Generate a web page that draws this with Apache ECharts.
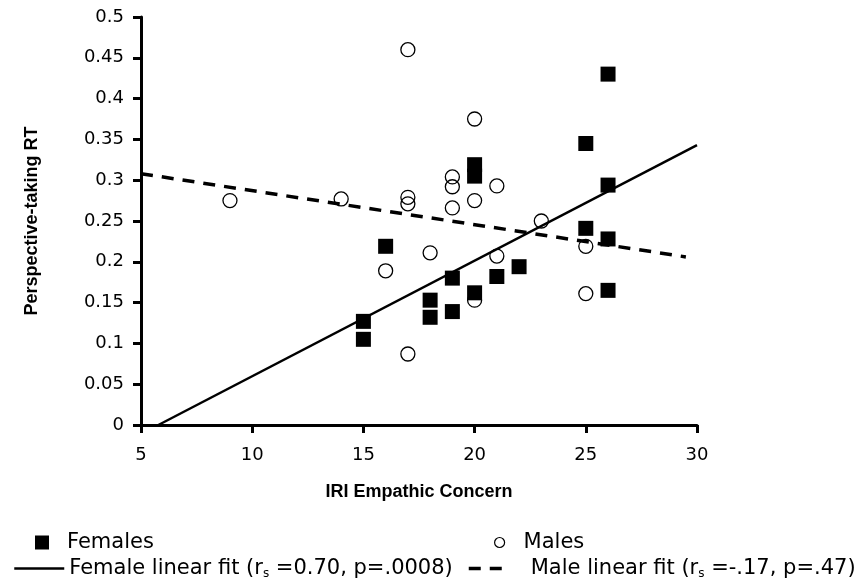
<!DOCTYPE html>
<html>
<head>
<meta charset="utf-8">
<script src="https://cdn.jsdelivr.net/npm/echarts@6/dist/echarts.min.js"></script>
<style>
  html, body { margin: 0; padding: 0; background: #fff; }
  #chart { width: 862px; height: 586px; }
</style>
</head>
<body>
<div id="chart"></div>
<script>
// IRI empathic concern (x) vs perspective-taking RT (y)
const femaleX = [26, 25, 20, 20, 26, 25, 26, 16, 22, 21, 19, 20, 18, 18, 19, 26, 15, 15];
const femaleY = [0.43, 0.345, 0.319, 0.305, 0.294, 0.241, 0.228, 0.219, 0.194, 0.182, 0.18, 0.162, 0.153, 0.132, 0.139, 0.165, 0.127, 0.105];

const maleX = [17, 20, 9, 14, 17, 17, 19, 19, 19, 20, 21, 23, 18, 16, 21, 25, 25, 20, 17];
const maleY = [0.46, 0.375, 0.275, 0.277, 0.279, 0.271, 0.304, 0.292, 0.266, 0.275, 0.293, 0.25, 0.211, 0.189, 0.207, 0.219, 0.161, 0.153, 0.087];

// fit line end points
const femaleFitX = [5.78, 30];
const femaleFitY = [0, 0.343];
const maleFitX = [5, 29.5];
const maleFitY = [0.308, 0.206];

const xTicks = { min: 5, max: 30, step: 5 };
const yTicks = { min: 0, max: 0.5, step: 0.05 };

const pairs = (xs, ys) => xs.map((x, i) => [x, ys[i]]);

const FONT = "DejaVu Sans";
const BOLD = "Liberation Sans";
const DASH = [12, 9];

const legendText = (padLeft) => ({
  fontFamily: FONT,
  fontSize: 21,
  color: "#000",
  padding: [0, 0, 0, padLeft],
  rich: {
    t: { fontFamily: FONT, fontSize: 21, color: "#000" },
    s: { fontFamily: FONT, fontSize: 12, color: "#000", padding: [10, 0, 0, 0] }
  }
});

const fitLabel = (name) => {
  if (name === "Female linear fit") return "{t|Female linear fit (r}{s|s}{t| =0.70, p=.0008)}";
  if (name === "Male linear fit") return "{t|Male linear fit (r}{s|s}{t| =-.17, p=.47)}";
  return name;
};

const myChart = echarts.init(document.getElementById("chart"), null, { renderer: "canvas" });

const option = {
  animation: false,
  backgroundColor: "#fff",
  grid: { left: 141, right: 165, top: 17, bottom: 161, containLabel: false },
  xAxis: {
    type: "value",
    min: xTicks.min,
    max: xTicks.max,
    interval: xTicks.step,
    name: "IRI Empathic Concern",
    nameLocation: "middle",
    nameGap: 58,
    nameTextStyle: { fontFamily: BOLD, fontWeight: "bold", fontSize: 18, color: "#000" },
    axisLine: { lineStyle: { color: "#000", width: 3 } },
    axisTick: { length: 8, lineStyle: { color: "#000", width: 3 } },
    axisLabel: { margin: 21, fontFamily: FONT, fontSize: 18, color: "#000" },
    splitLine: { show: false }
  },
  yAxis: {
    type: "value",
    min: yTicks.min,
    max: yTicks.max,
    interval: yTicks.step,
    name: "Perspective-taking RT",
    nameLocation: "middle",
    nameGap: 100,
    nameTextStyle: { fontFamily: BOLD, fontWeight: "bold", fontSize: 18, color: "#000" },
    axisLine: { show: true, lineStyle: { color: "#000", width: 3 } },
    axisTick: { show: true, length: 8, lineStyle: { color: "#000", width: 3 } },
    axisLabel: { margin: 17, fontFamily: FONT, fontSize: 18, color: "#000" },
    splitLine: { show: false }
  },
  legend: [
    {
      left: 30, top: 527, icon: "rect", itemWidth: 14, itemHeight: 14,
      data: ["Females"], textStyle: legendText(13), selectedMode: false,
      itemStyle: { color: "#000", opacity: 1 }
    },
    {
      left: 489, top: 527, icon: "circle", itemWidth: 10, itemHeight: 10,
      data: ["Males"], textStyle: legendText(14), selectedMode: false,
      itemStyle: { color: "#fff", borderColor: "#000", borderWidth: 1.2 }
    },
    {
      left: 8, top: 553, itemWidth: 50, itemHeight: 3,
      data: ["Female linear fit"], formatter: fitLabel, textStyle: legendText(0), selectedMode: false,
      itemStyle: { opacity: 0 },
      lineStyle: { color: "#000", width: 2.5, type: "solid" }
    },
    {
      left: 462, top: 553, itemWidth: 34, itemHeight: 3,
      data: ["Male linear fit"], formatter: fitLabel, textStyle: legendText(23), selectedMode: false,
      itemStyle: { opacity: 0 },
      lineStyle: { color: "#000", width: 3.5, type: DASH }
    }
  ],
  series: [
    {
      name: "Female linear fit",
      type: "line",
      data: pairs(femaleFitX, femaleFitY),
      symbol: "none",
      lineStyle: { color: "#000", width: 2.5, type: "solid" },
      itemStyle: { color: "#000" },
      z: 2
    },
    {
      name: "Male linear fit",
      type: "line",
      data: pairs(maleFitX, maleFitY),
      symbol: "none",
      lineStyle: { color: "#000", width: 3.5, type: DASH },
      itemStyle: { color: "#000" },
      z: 2
    },
    {
      name: "Males",
      type: "scatter",
      data: pairs(maleX, maleY),
      symbol: "circle",
      symbolSize: 14,
      itemStyle: { color: "rgba(255,255,255,0)", borderColor: "#000", borderWidth: 1.3, opacity: 1 },
      z: 3
    },
    {
      name: "Females",
      type: "scatter",
      data: pairs(femaleX, femaleY),
      symbol: "rect",
      symbolSize: 15,
      itemStyle: { color: "#000", opacity: 1 },
      z: 4
    }
  ]
};

myChart.setOption(option);
window.onresize = function () {
  myChart.resize();
};
</script>
</body>
</html>
